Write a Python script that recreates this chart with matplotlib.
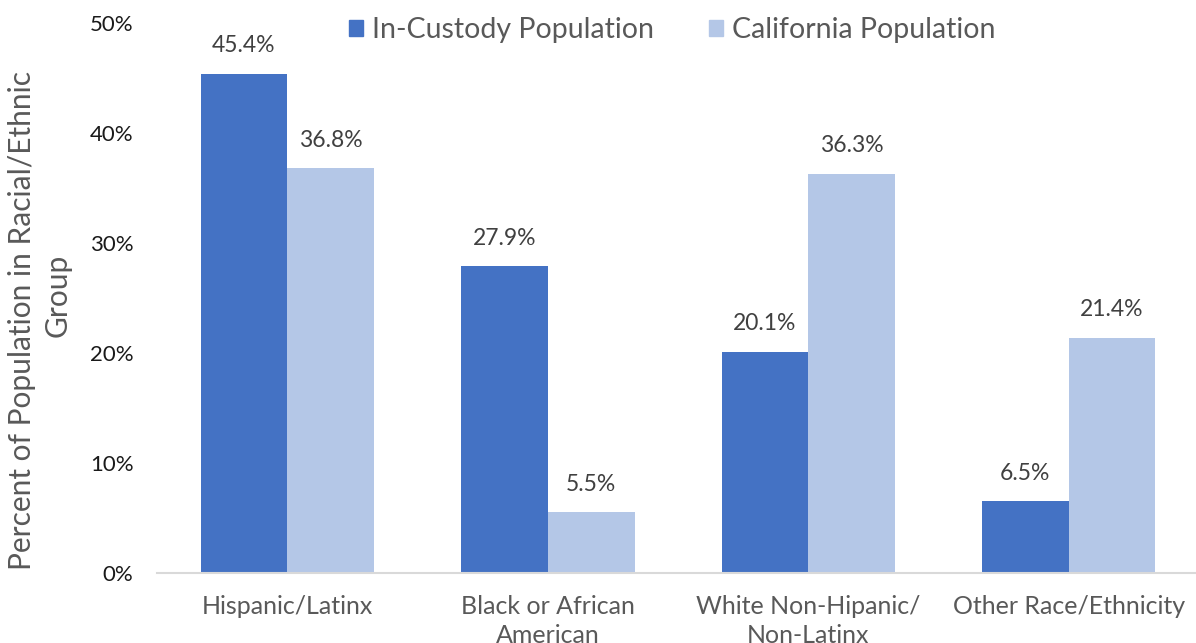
#!/usr/bin/env python3
"""Racial/ethnic makeup of the in-custody population versus California overall."""

import matplotlib

matplotlib.use("Agg")
import matplotlib.pyplot as plt
import numpy as np
from matplotlib.patches import Patch

categories = [
    "Hispanic/Latinx",
    "Black or African\nAmerican",
    "White Non-Hipanic/\nNon-Latinx",
    "Other Race/Ethnicity",
]
in_custody = [45.4, 27.9, 20.1, 6.5]
california = [36.8, 5.5, 36.3, 21.4]
series_names = ["In-Custody Population", "California Population"]
y_ticks = [0, 10, 20, 30, 40, 50]

DARK = "#4472C4"
LIGHT = "#B4C7E7"
TEXT_GREY = "#595959"

plt.rcParams["font.family"] = ["Lato", "DejaVu Sans"]

fig = plt.figure(figsize=(11.96, 6.43), dpi=100)
ax = fig.add_axes([0.1313, 0.109, 0.8712, 0.855])

x = np.arange(len(categories))
width = 0.333
bars_a = ax.bar(x - width / 2, in_custody, width, color=DARK)
bars_b = ax.bar(x + width / 2, california, width, color=LIGHT)

for bars, vals in ((bars_a, in_custody), (bars_b, california)):
    for bar, v in zip(bars, vals):
        ax.text(bar.get_x() + bar.get_width() / 2, v + 1.6, f"{v:.1f}%",
                ha="center", va="bottom", fontsize=16.5, color="#404040")

ax.set_xlim(-0.5, len(categories) - 0.5)
ax.set_ylim(0, 50)
ax.set_yticks(y_ticks)
ax.set_yticklabels([f"{t}%" for t in y_ticks], fontsize=16, color="#1a1a1a")
ax.set_xticks(x)
ax.set_xticklabels(categories, fontsize=18, color=TEXT_GREY, linespacing=1.33)
ax.tick_params(axis="both", length=0)
ax.tick_params(axis="x", pad=16)
ax.tick_params(axis="y", pad=17)

for side in ("top", "right", "left"):
    ax.spines[side].set_visible(False)
ax.spines["bottom"].set_color("#D9D9D9")
ax.spines["bottom"].set_linewidth(1.5)

# two-line axis title, each line placed on its own
fig.text(0.0185, 0.502, "Percent of Population in Racial/Ethnic", rotation=90,
         ha="center", va="center", fontsize=21.5, color=TEXT_GREY)
fig.text(0.0485, 0.540, "Group", rotation=90,
         ha="center", va="center", fontsize=21.5, color=TEXT_GREY)

handles = [Patch(color=DARK), Patch(color=LIGHT)]
fig.legend(handles, series_names, loc="center", bbox_to_anchor=(0.562, 0.953),
           ncol=2, frameon=False, fontsize=20.5, labelcolor=TEXT_GREY,
           handlelength=0.5, handleheight=0.5, handletextpad=0.3, columnspacing=1.95)

fig.savefig("out.png", dpi=100)
